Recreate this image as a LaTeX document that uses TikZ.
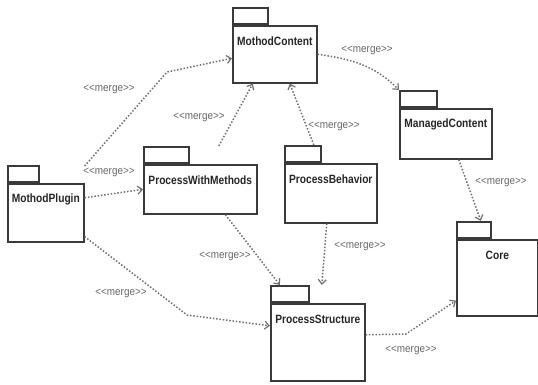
\documentclass[tikz,border=0pt]{standalone}
\usepackage{fontspec}
\setmainfont{Liberation Sans}
\newfontfamily\titlefont[FakeStretch=0.85]{Liberation Sans}
\newfontfamily\tagfont[FakeStretch=0.9]{Liberation Sans}
\usetikzlibrary{arrows.meta,calc}

\definecolor{boxline}{HTML}{3A3A3A}
\definecolor{linkgray}{HTML}{707070}
\definecolor{taggray}{HTML}{666666}

\tikzset{
  pkgbody/.style={draw=boxline, line width=1.6pt, fill=white, inner sep=0pt, anchor=north west},
  pkgtab/.style={draw=boxline, line width=1.6pt, fill=white, inner sep=0pt, anchor=south west, minimum height=16.5pt},
  pkgtitle/.style={font=\titlefont\bfseries\fontsize{12}{14}\selectfont, text=black!85, inner sep=0pt},
  mergetag/.style={font=\tagfont\fontsize{11}{13}\selectfont, text=taggray, inner sep=1pt},
  merge/.style={draw=linkgray, line width=1.5pt, dash pattern=on 1.5pt off 1.8pt,
    -{Straight Barb[length=4.5pt,width=8pt,line width=1.2pt]}}
}

% package: name, body top-left x, y, body width, body height, tab width, title
\newcommand\umlpackage[7]{%
  \node[pkgbody, minimum width=#4pt, minimum height=#5pt] (#1) at (#2,#3) {};
  \node[pkgtab, minimum width=#6pt] (#1-tab) at (#1.north west) {};
  \node[pkgtitle] (#1-title) at ([yshift=-16.5pt]#1.north) {#7};
}

\begin{document}
\begin{tikzpicture}[x=1pt,y=-1pt]
\useasboundingbox (0,0) rectangle (538,384);

% packages
\umlpackage{mc}{232}{25}{84}{57}{35}{MothodContent}
\umlpackage{mp}{7}{183}{76}{58}{31}{MothodPlugin}
\umlpackage{pwm}{143}{164}{113}{49}{45}{ProcessWithMethods}
\umlpackage{pb}{284}{163}{92}{59}{36}{ProcessBehavior}
\umlpackage{mgc}{399}{108}{92}{50}{37}{ManagedContent}
\umlpackage{ps}{270}{303}{94}{77}{38}{ProcessStructure}
\umlpackage{core}{456}{239}{81}{76}{34}{Core}

% bend points
\coordinate (b1) at (167,72);
\coordinate (b2) at (187,315);
\coordinate (b3) at (406,334);

% merge dependencies
\draw[merge] ([yshift=17pt]mp.north east) -- (b1) -- ([yshift=-4pt]mc.west);
\draw[merge] ([yshift=15pt]mp.east) -- (pwm.west);
\draw[merge] ([xshift=18.5pt]pwm-tab.north -| pwm.north) -- ([xshift=-22pt]mc.south);
\draw[merge] ([xshift=11pt]pb-tab.north) -- ([xshift=15pt]mc.south);
\draw[merge] (mc.east) to[out=-8, in=135] (mgc-tab.north west);
\draw[merge] ([xshift=13pt]mgc.south) -- ([xshift=7pt]core-tab.north);
\draw[merge] ([xshift=-4pt]pb.south) -- ($(ps-tab.north -| ps.north)+(4,0)$);
\draw[merge] ([xshift=25pt]pwm.south) -- ([xshift=-10pt]ps-tab.north);
\draw[merge] ([yshift=6pt]mp.south east) -- (b2) -- ([yshift=16.5pt]ps.west);
\draw[merge] ([yshift=7.5pt]ps.east) -- (b3) -- ([yshift=16pt]core.south west);

% stereotype labels
\node[mergetag] (t1) at (109,89) {<<merge>>};
\node[mergetag] (t2) at (199,117) {<<merge>>};
\node[mergetag] (t3) at (367,50) {<<merge>>};
\node[mergetag] (t4) at (334,126) {<<merge>>};
\node[mergetag] (t5) at (501,182) {<<merge>>};
\node[mergetag] (t6) at (109,172) {<<merge>>};
\node[mergetag] (t7) at (225,256) {<<merge>>};
\node[mergetag] (t8) at (121,293) {<<merge>>};
\node[mergetag] (t9) at (360,246) {<<merge>>};
\node[mergetag] (t10) at (411,350) {<<merge>>};
\end{tikzpicture}
\end{document}
